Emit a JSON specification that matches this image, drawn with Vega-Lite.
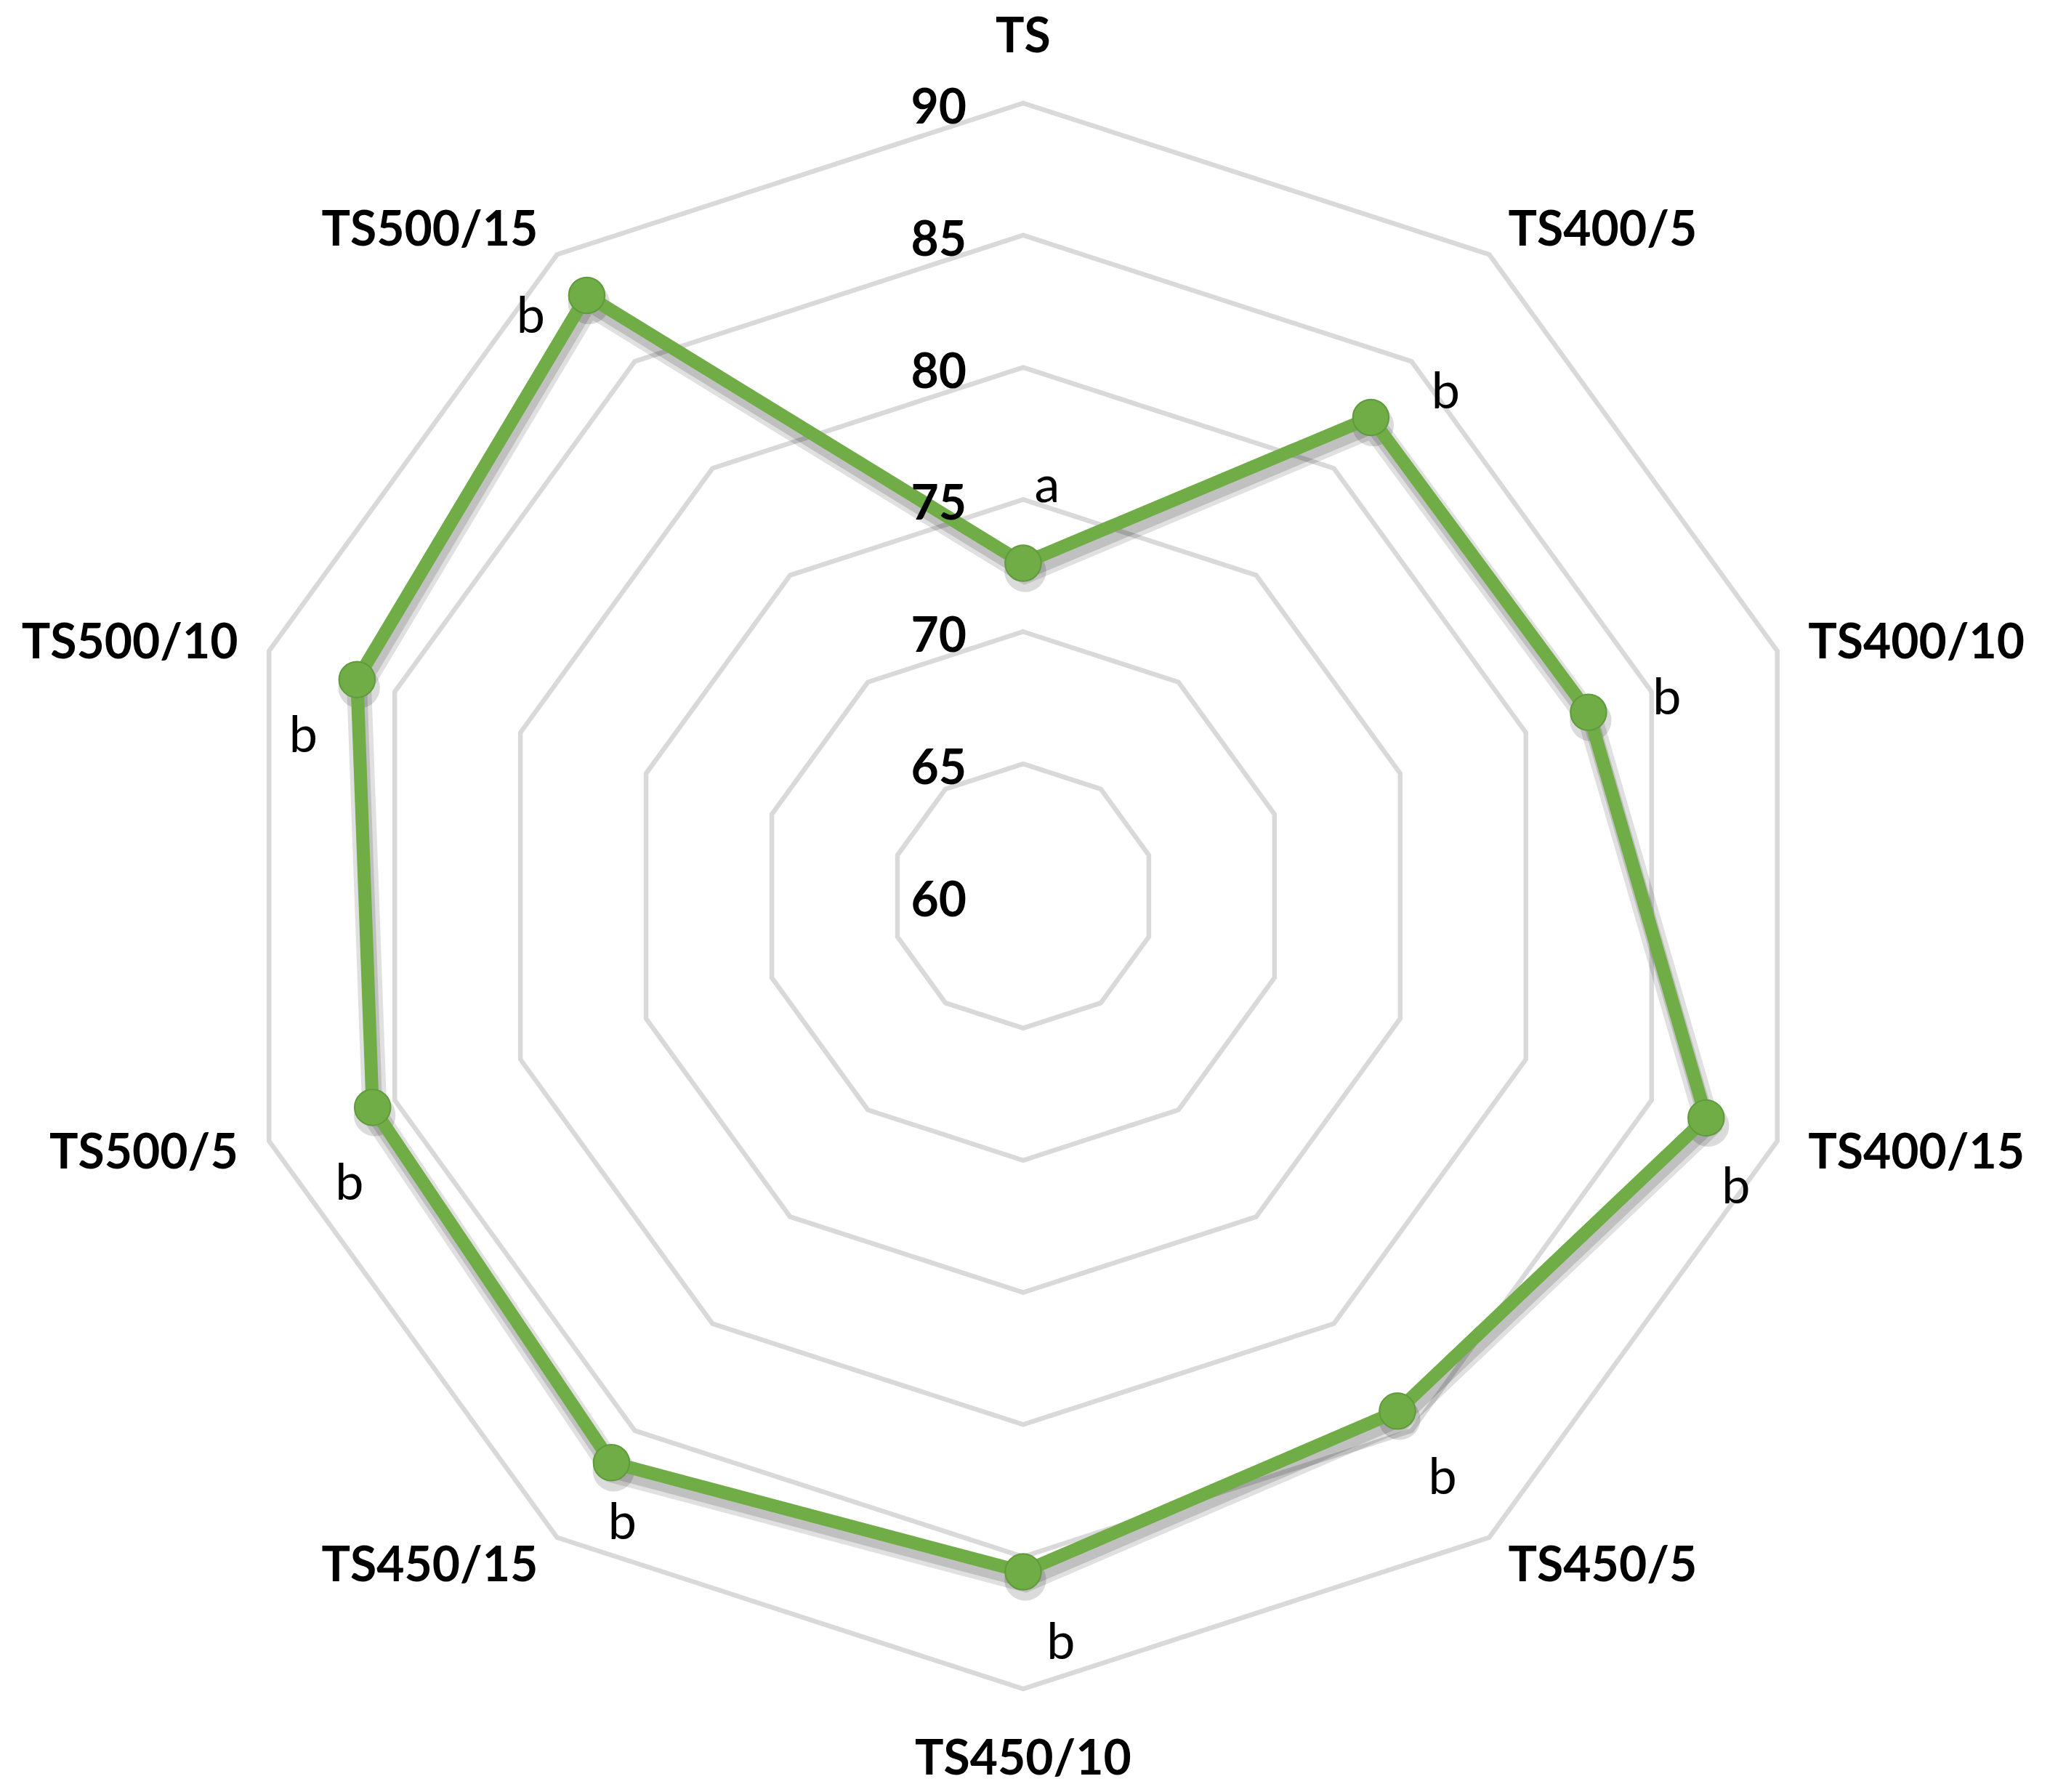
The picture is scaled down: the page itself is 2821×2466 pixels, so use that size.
{
  "$schema": "https://vega.github.io/schema/vega-lite/v6.json",
  "autosize": {"type": "fit", "contains": "padding"},
  "width": 2821,
  "height": 2466,
  "padding": 0,
  "background": "white",
  "config": {"view": {"stroke": null}, "font": "Lato"},
  "datasets": {
    "pts": [
      {"cat": "TS", "idx": 0, "value": 72.59, "letter": "a"},
      {"cat": "TS400/5", "idx": 1, "value": 82.38, "letter": "b"},
      {"cat": "TS400/10", "idx": 2, "value": 82.49, "letter": "b"},
      {"cat": "TS400/15", "idx": 3, "value": 87.17, "letter": "b"},
      {"cat": "TS450/5", "idx": 4, "value": 84.09, "letter": "b"},
      {"cat": "TS450/10", "idx": 5, "value": 85.57, "letter": "b"},
      {"cat": "TS450/15", "idx": 6, "value": 86.5, "letter": "b"},
      {"cat": "TS500/5", "idx": 7, "value": 85.88, "letter": "b"},
      {"cat": "TS500/10", "idx": 8, "value": 86.5, "letter": "b"},
      {"cat": "TS500/15", "idx": 9, "value": 88.09, "letter": "b"}
    ],
    "rings": [
      {"level": 65, "k": [0,1,2,3,4,5,6,7,8,9]},
      {"level": 70, "k": [0,1,2,3,4,5,6,7,8,9]},
      {"level": 75, "k": [0,1,2,3,4,5,6,7,8,9]},
      {"level": 80, "k": [0,1,2,3,4,5,6,7,8,9]},
      {"level": 85, "k": [0,1,2,3,4,5,6,7,8,9]},
      {"level": 90, "k": [0,1,2,3,4,5,6,7,8,9]}
    ],
    "ticks": [
      {"level": 60}, {"level": 65}, {"level": 70}, {"level": 75},
      {"level": 80}, {"level": 85}, {"level": 90}
    ]
  },
  "encoding": {
    "x": {"field": "x", "type": "quantitative", "axis": null, "scale": {"domain": [-38.71, 38.85], "nice": false, "zero": false}},
    "y": {"field": "y", "type": "quantitative", "axis": null, "scale": {"domain": [-33.9, 33.9], "nice": false, "zero": false}}
  },
  "layer": [
    {
      "data": {"name": "rings"},
      "transform": [
        {"flatten": ["k"]},
        {"calculate": "(datum.level - 60) * sin(datum.k * PI / 5)", "as": "x"},
        {"calculate": "(datum.level - 60) * cos(datum.k * PI / 5)", "as": "y"}
      ],
      "mark": {"type": "line", "interpolate": "linear-closed", "stroke": "#D9D9D9", "strokeWidth": 6.5},
      "encoding": {"detail": {"field": "level"}, "order": {"field": "k", "type": "quantitative"}}
    },
    {
      "data": {"name": "pts"},
      "transform": [
        {"calculate": "(datum.value - 60) * sin(datum.idx * PI / 5) + 0.08", "as": "x"},
        {"calculate": "(datum.value - 60) * cos(datum.idx * PI / 5) - 0.3", "as": "y"}
      ],
      "mark": {"type": "line", "interpolate": "linear-closed", "stroke": "#000000", "strokeOpacity": 0.12, "strokeWidth": 34},
      "encoding": {"order": {"field": "idx", "type": "quantitative"}}
    },
    {
      "data": {"name": "pts"},
      "transform": [
        {"calculate": "(datum.value - 60) * sin(datum.idx * PI / 5) + 0.08", "as": "x"},
        {"calculate": "(datum.value - 60) * cos(datum.idx * PI / 5) - 0.3", "as": "y"}
      ],
      "mark": {"type": "line", "interpolate": "linear-closed", "stroke": "#000000", "strokeOpacity": 0.14, "strokeWidth": 22},
      "encoding": {"order": {"field": "idx", "type": "quantitative"}}
    },
    {
      "data": {"name": "pts"},
      "transform": [
        {"calculate": "(datum.value - 60) * sin(datum.idx * PI / 5) + 0.08", "as": "x"},
        {"calculate": "(datum.value - 60) * cos(datum.idx * PI / 5) - 0.3", "as": "y"}
      ],
      "mark": {"type": "circle", "size": 3300, "fill": "#000000", "opacity": 0.14},
      "encoding": {}
    },
    {
      "data": {"name": "pts"},
      "transform": [
        {"calculate": "(datum.value - 60) * sin(datum.idx * PI / 5)", "as": "x"},
        {"calculate": "(datum.value - 60) * cos(datum.idx * PI / 5)", "as": "y"}
      ],
      "mark": {"type": "line", "interpolate": "linear-closed", "stroke": "#70AD47", "strokeWidth": 18},
      "encoding": {"order": {"field": "idx", "type": "quantitative"}}
    },
    {
      "data": {"name": "pts"},
      "transform": [
        {"calculate": "(datum.value - 60) * sin(datum.idx * PI / 5)", "as": "x"},
        {"calculate": "(datum.value - 60) * cos(datum.idx * PI / 5)", "as": "y"}
      ],
      "mark": {"type": "circle", "size": 2450, "fill": "#70AD47", "stroke": "#5F9A3B", "strokeWidth": 2, "opacity": 1},
      "encoding": {}
    },
    {
      "data": {"name": "ticks"},
      "transform": [
        {"calculate": "0", "as": "x"},
        {"calculate": "datum.level - 60", "as": "y"}
      ],
      "mark": {"type": "text", "align": "right", "baseline": "middle", "dx": -78, "dy": 8, "fontSize": 66, "fontWeight": "bold", "font": "Lato", "color": "#000000"},
      "encoding": {"text": {"field": "level", "type": "quantitative"}}
    },
    {
      "data": {"name": "pts"},
      "transform": [
        {"filter": "datum.idx == 0 || datum.idx == 5"},
        {"calculate": "32.57 * sin(datum.idx * PI / 5)", "as": "x"},
        {"calculate": "32.57 * cos(datum.idx * PI / 5)", "as": "y"}
      ],
      "mark": {"type": "text", "align": "center", "baseline": "middle", "dy": 4, "fontSize": 66, "fontWeight": "bold", "font": "Lato", "color": "#000000"},
      "encoding": {"text": {"field": "cat"}}
    },
    {
      "data": {"name": "pts"},
      "transform": [
        {"filter": "datum.idx >= 1 && datum.idx <= 4"},
        {"calculate": "31.23 * sin(datum.idx * PI / 5)", "as": "x"},
        {"calculate": "31.23 * cos(datum.idx * PI / 5)", "as": "y"}
      ],
      "mark": {"type": "text", "align": "left", "baseline": "middle", "dy": 4, "fontSize": 66, "fontWeight": "bold", "font": "Lato", "color": "#000000"},
      "encoding": {"text": {"field": "cat"}}
    },
    {
      "data": {"name": "pts"},
      "transform": [
        {"filter": "datum.idx >= 6"},
        {"calculate": "31.23 * sin(datum.idx * PI / 5)", "as": "x"},
        {"calculate": "31.23 * cos(datum.idx * PI / 5)", "as": "y"}
      ],
      "mark": {"type": "text", "align": "right", "baseline": "middle", "dy": 4, "fontSize": 66, "fontWeight": "bold", "font": "Lato", "color": "#000000"},
      "encoding": {"text": {"field": "cat"}}
    },
    {
      "data": {"name": "pts"},
      "transform": [
        {"filter": "datum.idx == 0"},
        {"calculate": "(datum.value - 60) * sin(datum.idx * PI / 5)", "as": "x"},
        {"calculate": "(datum.value - 60) * cos(datum.idx * PI / 5)", "as": "y"}
      ],
      "mark": {"type": "text", "align": "center", "baseline": "middle", "dx": 33, "dy": -105, "fontSize": 70, "font": "Lato", "color": "#000000"},
      "encoding": {"text": {"field": "letter"}}
    },
    {
      "data": {"name": "pts"},
      "transform": [
        {"filter": "datum.idx == 1"},
        {"calculate": "(datum.value - 60) * sin(datum.idx * PI / 5)", "as": "x"},
        {"calculate": "(datum.value - 60) * cos(datum.idx * PI / 5)", "as": "y"}
      ],
      "mark": {"type": "text", "align": "center", "baseline": "middle", "dx": 103, "dy": -33, "fontSize": 70, "font": "Lato", "color": "#000000"},
      "encoding": {"text": {"field": "letter"}}
    },
    {
      "data": {"name": "pts"},
      "transform": [
        {"filter": "datum.idx == 2"},
        {"calculate": "(datum.value - 60) * sin(datum.idx * PI / 5)", "as": "x"},
        {"calculate": "(datum.value - 60) * cos(datum.idx * PI / 5)", "as": "y"}
      ],
      "mark": {"type": "text", "align": "center", "baseline": "middle", "dx": 108, "dy": -18, "fontSize": 70, "font": "Lato", "color": "#000000"},
      "encoding": {"text": {"field": "letter"}}
    },
    {
      "data": {"name": "pts"},
      "transform": [
        {"filter": "datum.idx == 3"},
        {"calculate": "(datum.value - 60) * sin(datum.idx * PI / 5)", "as": "x"},
        {"calculate": "(datum.value - 60) * cos(datum.idx * PI / 5)", "as": "y"}
      ],
      "mark": {"type": "text", "align": "center", "baseline": "middle", "dx": 41, "dy": 97, "fontSize": 70, "font": "Lato", "color": "#000000"},
      "encoding": {"text": {"field": "letter"}}
    },
    {
      "data": {"name": "pts"},
      "transform": [
        {"filter": "datum.idx == 4"},
        {"calculate": "(datum.value - 60) * sin(datum.idx * PI / 5)", "as": "x"},
        {"calculate": "(datum.value - 60) * cos(datum.idx * PI / 5)", "as": "y"}
      ],
      "mark": {"type": "text", "align": "center", "baseline": "middle", "dx": 62, "dy": 93, "fontSize": 70, "font": "Lato", "color": "#000000"},
      "encoding": {"text": {"field": "letter"}}
    },
    {
      "data": {"name": "pts"},
      "transform": [
        {"filter": "datum.idx == 5"},
        {"calculate": "(datum.value - 60) * sin(datum.idx * PI / 5)", "as": "x"},
        {"calculate": "(datum.value - 60) * cos(datum.idx * PI / 5)", "as": "y"}
      ],
      "mark": {"type": "text", "align": "center", "baseline": "middle", "dx": 52, "dy": 99, "fontSize": 70, "font": "Lato", "color": "#000000"},
      "encoding": {"text": {"field": "letter"}}
    },
    {
      "data": {"name": "pts"},
      "transform": [
        {"filter": "datum.idx == 6"},
        {"calculate": "(datum.value - 60) * sin(datum.idx * PI / 5)", "as": "x"},
        {"calculate": "(datum.value - 60) * cos(datum.idx * PI / 5)", "as": "y"}
      ],
      "mark": {"type": "text", "align": "center", "baseline": "middle", "dx": 15, "dy": 84, "fontSize": 70, "font": "Lato", "color": "#000000"},
      "encoding": {"text": {"field": "letter"}}
    },
    {
      "data": {"name": "pts"},
      "transform": [
        {"filter": "datum.idx == 7"},
        {"calculate": "(datum.value - 60) * sin(datum.idx * PI / 5)", "as": "x"},
        {"calculate": "(datum.value - 60) * cos(datum.idx * PI / 5)", "as": "y"}
      ],
      "mark": {"type": "text", "align": "center", "baseline": "middle", "dx": -32, "dy": 106, "fontSize": 70, "font": "Lato", "color": "#000000"},
      "encoding": {"text": {"field": "letter"}}
    },
    {
      "data": {"name": "pts"},
      "transform": [
        {"filter": "datum.idx == 8"},
        {"calculate": "(datum.value - 60) * sin(datum.idx * PI / 5)", "as": "x"},
        {"calculate": "(datum.value - 60) * cos(datum.idx * PI / 5)", "as": "y"}
      ],
      "mark": {"type": "text", "align": "center", "baseline": "middle", "dx": -74, "dy": 79, "fontSize": 70, "font": "Lato", "color": "#000000"},
      "encoding": {"text": {"field": "letter"}}
    },
    {
      "data": {"name": "pts"},
      "transform": [
        {"filter": "datum.idx == 9"},
        {"calculate": "(datum.value - 60) * sin(datum.idx * PI / 5)", "as": "x"},
        {"calculate": "(datum.value - 60) * cos(datum.idx * PI / 5)", "as": "y"}
      ],
      "mark": {"type": "text", "align": "center", "baseline": "middle", "dx": -77, "dy": 31, "fontSize": 70, "font": "Lato", "color": "#000000"},
      "encoding": {"text": {"field": "letter"}}
    }
  ]
}
